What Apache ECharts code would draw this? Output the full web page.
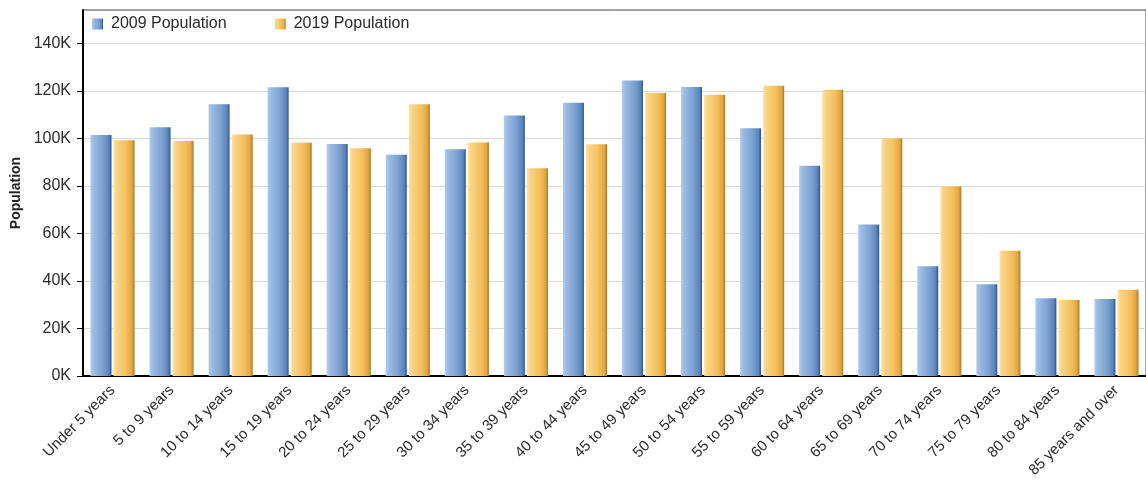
<!DOCTYPE html>
<html>
<head>
<meta charset="utf-8">
<script src="https://cdn.jsdelivr.net/npm/echarts@6/dist/echarts.min.js"></script>
<style>
html,body{margin:0;padding:0;background:#fff;}
#chart{width:1146px;height:495px;}
</style>
</head>
<body>
<div id="chart"></div>
<script>
var categories = ["Under 5 years","5 to 9 years","10 to 14 years","15 to 19 years","20 to 24 years","25 to 29 years","30 to 34 years","35 to 39 years","40 to 44 years","45 to 49 years","50 to 54 years","55 to 59 years","60 to 64 years","65 to 69 years","70 to 74 years","75 to 79 years","80 to 84 years","85 years and over"];
var pop2009 = [101400,104700,114300,121500,97600,93100,95400,109600,115000,124300,121600,104200,88500,63700,46200,38600,32700,32400];
var pop2019 = [99200,98900,101600,98100,95800,114300,98300,87400,97500,119100,118300,122100,120400,99900,79700,52700,32000,36300];
var seriesNames = ["2009 Population","2019 Population"];
var yAxisName = "Population";
var yTicks = [0,20000,40000,60000,80000,100000,120000,140000];

var FONT = "'Liberation Sans', Arial, sans-serif";
var chart = echarts.init(document.getElementById('chart'), null, {renderer:'canvas'});

function grad(stops){
  return new echarts.graphic.LinearGradient(0,0,1,0, stops.map(function(s){return {offset:s[0], color:s[1]};}));
}
var blueFill = grad([[0,'#b3cbea'],[0.15,'#9bbbe2'],[0.6,'#7aa0d2'],[0.88,'#5b84ba'],[1,'#2c5383']]);
var orangeFill = grad([[0,'#fce3a6'],[0.15,'#f9d385'],[0.6,'#f4c05c'],[0.88,'#e2a640'],[1,'#a4762c']]);

chart.setOption({
  animation:false,
  backgroundColor:'#ffffff',
  color:['#8fb2de','#f5c55e'],
  grid:{left:83, right:-3, top:10, bottom:119, show:true, borderColor:'#444', borderWidth:1, backgroundColor:'rgba(0,0,0,0)'},
  legend:{
    left:87, top:11,
    itemWidth:11, itemHeight:11, itemGap:48,
    icon:'rect',
    textStyle:{fontFamily:FONT, fontSize:16, color:'#2a2a2a', padding:[0,0,0,3]},
    data:seriesNames
  },
  xAxis:{
    type:'category',
    data:categories,
    axisLine:{lineStyle:{color:'#000', width:2}},
    axisTick:{alignWithLabel:true, length:6, lineStyle:{color:'#000'}},
    axisLabel:{rotate:45, interval:0, margin:12, fontFamily:FONT, fontSize:15, color:'#2a2a2a'}
  },
  yAxis:{
    type:'value',
    min:0, max:154000, interval:20000,
    name:yAxisName,
    nameLocation:'middle',
    nameGap:60,
    nameTextStyle:{fontFamily:FONT, fontSize:14, fontWeight:'bold', color:'#222'},
    axisLine:{show:true, lineStyle:{color:'#000', width:2}},
    axisTick:{show:true, length:6, lineStyle:{color:'#000'}, customValues:yTicks},
    axisLabel:{
      fontFamily:FONT, fontSize:16, color:'#2a2a2a', margin:12,
      customValues:yTicks,
      formatter:function(v){ return (v % 20000 === 0) ? (v/1000)+'K' : ''; }
    },
    splitLine:{lineStyle:{color:'#d9d9d9', width:1}}
  },
  series:[
    {name:seriesNames[0], type:'bar', data:pop2009, barWidth:21, barGap:'10%', itemStyle:{color:blueFill}},
    {name:seriesNames[1], type:'bar', data:pop2019, barWidth:21, itemStyle:{color:orangeFill}}
  ]
});
</script>
</body>
</html>
